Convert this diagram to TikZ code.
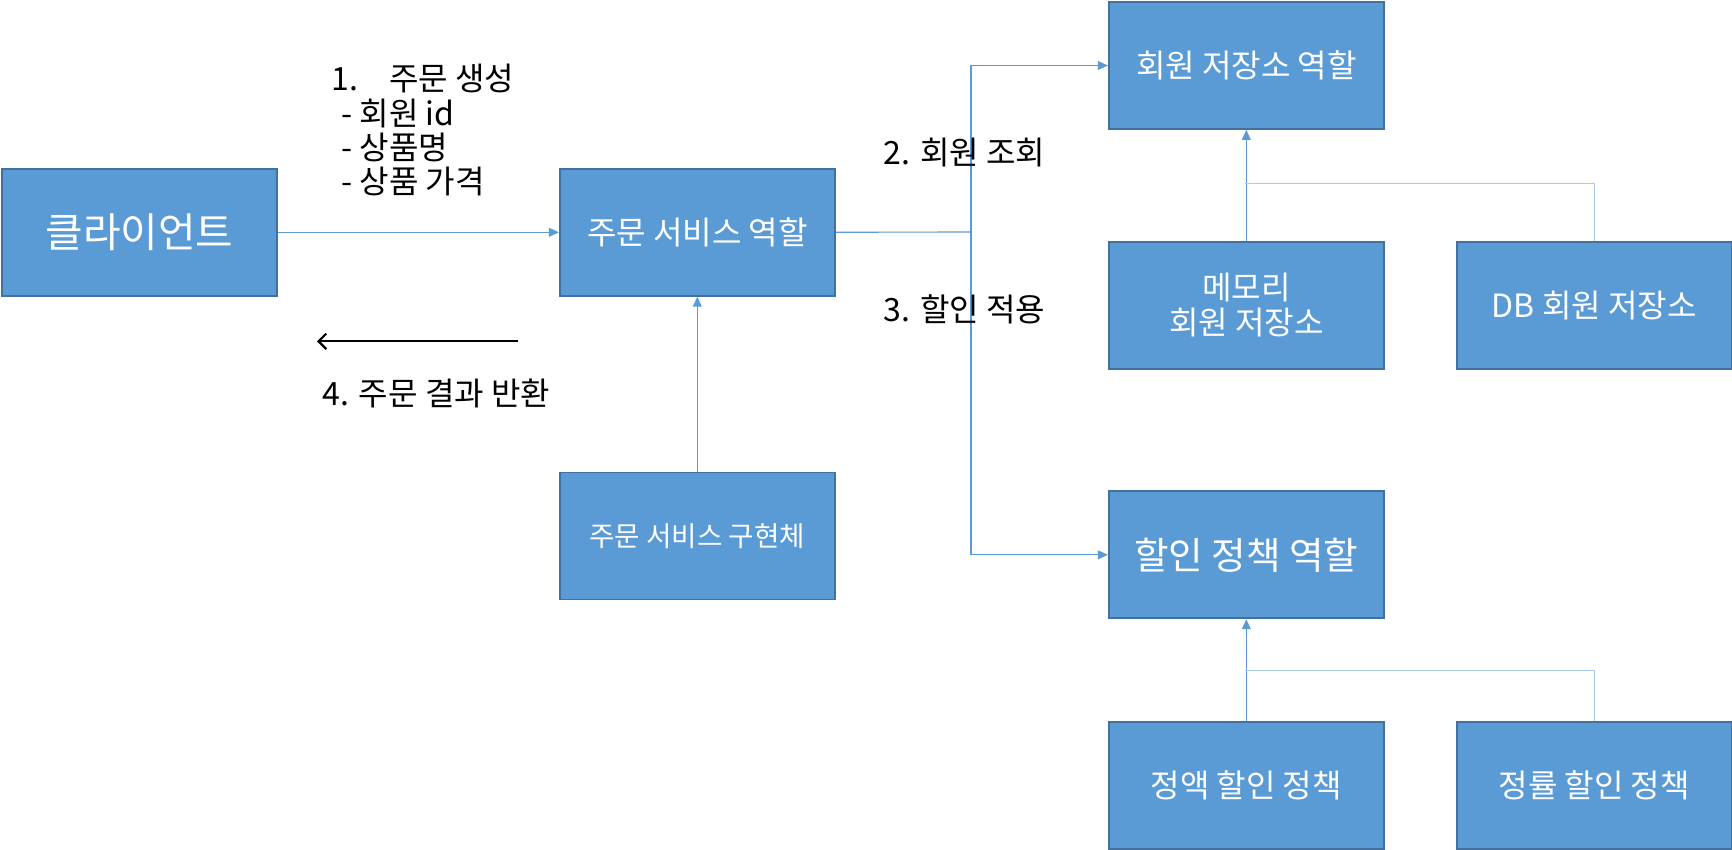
\documentclass[tikz,border=0pt]{standalone}
\usepackage{fontspec}
\setmainfont{Noto Sans CJK KR}
\usetikzlibrary{arrows.meta}
\definecolor{boxfill}{HTML}{5B9BD5}
\definecolor{boxdraw}{HTML}{41719C}
\definecolor{lineblue}{HTML}{5B9BD5}
\definecolor{linelight}{HTML}{A9C9E8}
\begin{document}
\begin{tikzpicture}[x=1pt,y=-1pt,
  box/.style={draw=boxdraw, line width=1.6pt, fill=boxfill, text=white,
    minimum width=249pt, minimum height=115pt, inner sep=0pt, align=center,
    anchor=north west, font=\fontsize{29}{32}\selectfont},
  conn/.style={draw=lineblue, line width=1pt},
  connlight/.style={draw=linelight, line width=1.2pt},
  tip/.style={-{Triangle[length=9pt,width=8pt]}},
  lbl/.style={anchor=west, inner sep=0pt, align=left, font=\fontsize{29}{31}\selectfont}
]
\useasboundingbox (0,0) rectangle (1568,769);
% boxes
\node[box, font=\fontsize{37}{40}\selectfont] (client) at (1,152) {클라이언트};
\node[box] (orole) at (506,152) {주문 서비스 역할};
\node[box, font=\fontsize{25}{30}\selectfont] (oimpl) at (506,427) {주문 서비스 구현체};
\node[box] (mrole) at (1003,1) {회원 저장소 역할};
\node[box] (mem) at (1003,218) {메모리\\회원 저장소};
\node[box] (db) at (1318,218) {DB 회원 저장소};
\node[box, font=\fontsize{34}{38}\selectfont] (drole) at (1003,444) {할인 정책 역할};
\node[box] (fix) at (1003,653) {정액 할인 정책};
\node[box] (rate) at (1318,653) {정률 할인 정책};
% coordinates
\coordinate (split) at (879,210);
\coordinate (jm) at (1127,166);
\coordinate (jd) at (1127,607);
\coordinate (ra) at (469,309);
\coordinate (rb) at (287,309);
% connectors
\draw[conn, tip] (client.east) -- (orole.west);
\draw[conn] (orole.east) -- (split);
\draw[conn, tip] (split) |- (mrole.west);
\draw[conn, tip] (split) |- (drole.west);
\draw[conn, tip] (oimpl.north) -- (orole.south);
\draw[conn, tip] (mem.north) -- (mrole.south);
\draw[connlight] (db.north) |- (jm);
\draw[conn, tip] (fix.north) -- (drole.south);
\draw[connlight] (rate.north) |- (jd);
\draw[line width=2pt, -{Straight Barb[length=7pt,width=14pt]}] (ra) -- (rb);
% labels
\node[lbl] (l1) at (300,118) {\makebox[52pt][l]{1.}주문 생성\\\hspace{9pt}- 회원 id\\\hspace{9pt}- 상품명\\\hspace{9pt}- 상품 가격};
\node[lbl] (l2) at (800,138) {2. 회원 조회};
\node[lbl] (l3) at (800,280) {3. 할인 적용};
\node[lbl] (l4) at (292,356) {4. 주문 결과 반환};
\end{tikzpicture}
\end{document}
